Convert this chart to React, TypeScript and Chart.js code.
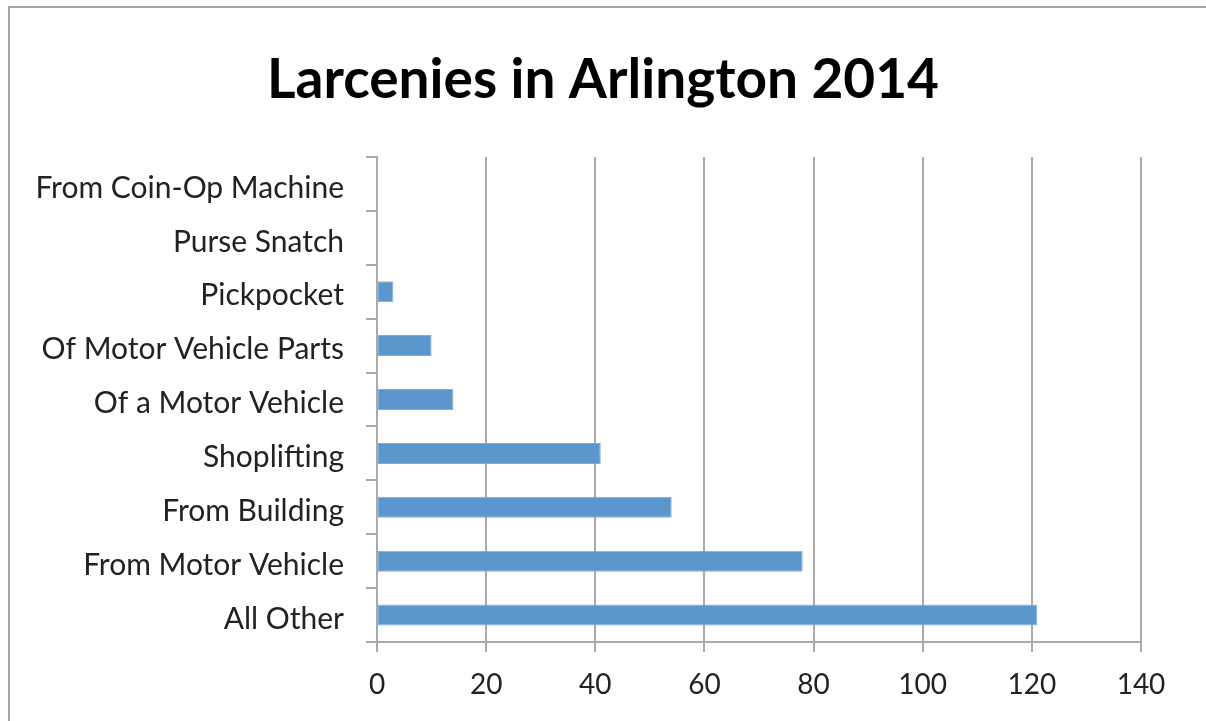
import React, { useEffect, useRef } from "react";
import { Chart, registerables } from "chart.js";

Chart.register(...registerables);

const categories: string[] = [
  "From Coin-Op Machine",
  "Purse Snatch",
  "Pickpocket",
  "Of Motor Vehicle Parts",
  "Of a Motor Vehicle",
  "Shoplifting",
  "From Building",
  "From Motor Vehicle",
  "All Other",
];
const larcenies: number[] = [0, 0, 3, 10, 14, 41, 54, 78, 121];
const titleText = "Larcenies in Arlington 2014";
const xMin = 0;
const xMax = 140;
const xStep = 20;

const FONT = "Lato, 'Open Sans', sans-serif";
const GRID = "#a9a9a9";

export default function App() {
  const ref = useRef<HTMLCanvasElement | null>(null);

  useEffect(() => {
    if (!ref.current) return;
    const chart = new Chart(ref.current, {
      type: "bar",
      data: {
        labels: categories,
        datasets: [
          {
            label: "Larcenies",
            data: larcenies,
            backgroundColor: "#5b96cc",
            borderColor: "#7eaedb",
            borderWidth: 1,
            borderSkipped: false,
            barPercentage: 0.39,
            categoryPercentage: 1,
          },
        ],
      },
      options: {
        indexAxis: "y",
        responsive: false,
        animation: false,
        layout: { padding: { left: 0, right: 0, top: 0, bottom: 0 } },
        plugins: {
          legend: { display: false },
          tooltip: { enabled: false },
          title: {
            display: true,
            text: titleText,
            color: "#000",
            font: { family: FONT, size: 55, weight: "bold" },
            padding: { top: 47, bottom: 44 },
          },
        },
        scales: {
          x: {
            type: "linear",
            min: xMin,
            max: xMax,
            ticks: {
              stepSize: xStep,
              color: "#222",
              font: { family: FONT, size: 28 },
              padding: 16,
            },
            grid: {
              color: GRID,
              lineWidth: 2,
              drawTicks: true,
              tickLength: 10,
              tickColor: GRID,
            },
            border: { display: true, color: GRID, width: 2 },
            afterFit: (s: any) => {
              s.height = 79;
            },
          },
          y: {
            type: "category",
            offset: true,
            ticks: {
              color: "#222",
              font: { family: FONT, size: 30 },
              padding: 22,
              labelOffset: 4,
            },
            grid: {
              offset: true,
              drawOnChartArea: false,
              drawTicks: true,
              tickLength: 11,
              color: GRID,
              lineWidth: 2,
            },
            border: { display: true, color: GRID, width: 2 },
            afterFit: (s: any) => {
              s.width = 377;
            },
          },
          yRight: {
            type: "linear",
            position: "right",
            display: true,
            ticks: { display: false },
            grid: { display: false, drawTicks: false },
            border: { display: false },
            afterFit: (s: any) => {
              s.width = 65;
            },
          },
        },
      },
    });
    return () => chart.destroy();
  }, []);

  return (
    <div
      style={{
        position: "fixed",
        left: 0,
        top: 0,
        width: 1206,
        height: 721,
        overflow: "hidden",
        background: "#fff",
      }}
    >
      <canvas ref={ref} width={1206} height={721} style={{ display: "block" }} />
      <div
        style={{
          position: "absolute",
          left: 8,
          top: 6,
          width: 1300,
          height: 800,
          borderLeft: "2px solid #a4a4a4",
          borderTop: "2px solid #a4a4a4",
          pointerEvents: "none",
        }}
      />
    </div>
  );
}
